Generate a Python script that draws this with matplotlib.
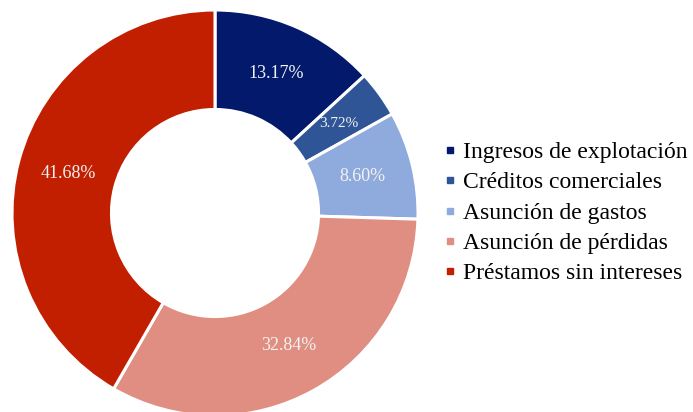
import matplotlib.pyplot as plt
from matplotlib.lines import Line2D

# datos del gráfico
categorias = ['Ingresos de explotación', 'Créditos comerciales', 'Asunción de gastos',
              'Asunción de pérdidas', 'Préstamos sin intereses']
porcentajes = [13.17, 3.72, 8.60, 32.84, 41.68]
colores = ['#03196B', '#2F5597', '#8FAADC', '#DF8E81', '#C21F00']
tam_etiqueta = [13, 11, 13, 13, 13]

plt.rcParams['font.family'] = ['Liberation Serif', 'DejaVu Serif']

fig = plt.figure(figsize=(6.93, 4.12), dpi=100)
W, H = 693, 412
cx, cy, r = 215, 213, 203
ax = fig.add_axes([(cx - r) / W, (H - cy - r) / H, 2 * r / W, 2 * r / H])

wedges, textos, autotextos = ax.pie(
    porcentajes, colors=colores, startangle=90, counterclock=False,
    radius=1, autopct=lambda p: '', pctdistance=0.75,
    wedgeprops=dict(width=0.49, edgecolor='white', linewidth=2.2))

# etiquetas con los valores leídos (no los recalculados)
for t, v, fs in zip(autotextos, porcentajes, tam_etiqueta):
    t.set_text(f'{v:.2f}%')
    t.set_color('#F2F2F2')
    t.set_fontsize(fs)

ax.set_xlim(-1, 1)
ax.set_ylim(-1, 1)
ax.set_aspect('equal')
ax.axis('off')

handles = [Line2D([0], [0], marker='s', linestyle='none', markersize=5,
                  markerfacecolor=c, markeredgecolor=c) for c in colores]
leg = fig.legend(handles, categorias, loc='center left', bbox_to_anchor=(443 / W, 1 - 213 / H),
                 frameon=False, fontsize=17, handlelength=0.6, handletextpad=0.25,
                 labelspacing=0.37, borderpad=0, borderaxespad=0)
for t in leg.get_texts():
    t.set_color('black')

fig.savefig('out.png', dpi=100)
